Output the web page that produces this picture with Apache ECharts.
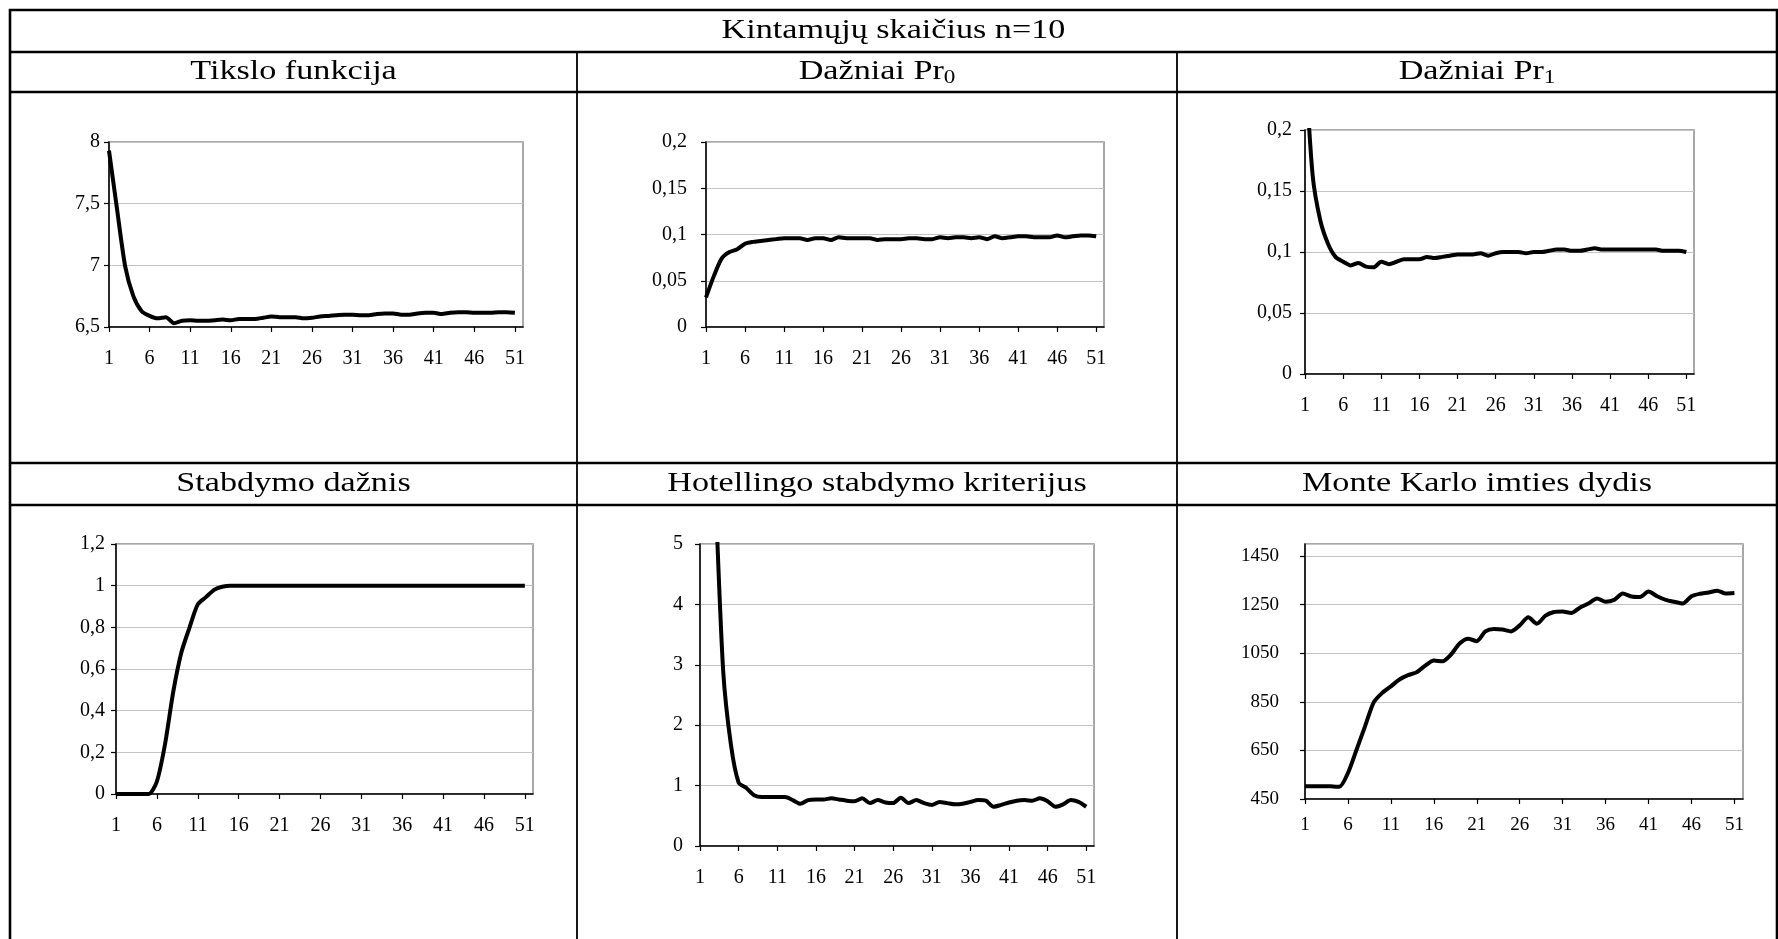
<!DOCTYPE html>
<html>
<head>
<meta charset="utf-8">
<script src="https://cdn.jsdelivr.net/npm/echarts@6/dist/echarts.min.js"></script>
<style>
html,body{margin:0;padding:0;background:#fff;}
#chart{width:1778px;height:939px;}
</style>
</head>
<body>
<div id="chart"></div>
<script>
// ---- Data ----
const categories = ['1','2','3','4','5','6','7','8','9','10','11','12','13','14','15','16','17','18','19','20',
  '21','22','23','24','25','26','27','28','29','30','31','32','33','34','35','36','37','38','39','40',
  '41','42','43','44','45','46','47','48','49','50','51','52'];

const mainTitle = 'Kintamųjų skaičius n=10';
const panelTitles = ['Tikslo funkcija', 'Dažniai Pr{sub|0}', 'Dažniai Pr{sub|1}',
  'Stabdymo dažnis', 'Hotellingo stabdymo kriterijus', 'Monte Karlo imties dydis'];

const tiksloFunkcija = [7.93,7.45,6.99,6.75,6.63,6.59,6.57,6.58,6.53,6.55,
  6.555,6.55,6.55,6.555,6.56,6.555,6.565,6.565,6.565,6.575,
  6.585,6.58,6.58,6.58,6.57,6.575,6.585,6.59,6.595,6.6,
  6.6,6.595,6.595,6.605,6.61,6.61,6.6,6.6,6.61,6.615,
  6.615,6.605,6.615,6.62,6.62,6.615,6.615,6.615,6.62,6.62,
  6.615];

const dazniaiPr0 = [0.032,0.055,0.074,0.081,0.084,0.09,0.092,0.093,0.094,0.095,
  0.096,0.096,0.096,0.094,0.096,0.096,0.094,0.097,0.096,0.096,
  0.096,0.096,0.094,0.095,0.095,0.095,0.096,0.096,0.095,0.095,
  0.097,0.096,0.097,0.097,0.096,0.097,0.095,0.098,0.096,0.097,
  0.098,0.098,0.097,0.097,0.097,0.099,0.097,0.098,0.099,0.099,
  0.098];

const dazniaiPr1 = [0.26,0.163,0.126,0.107,0.096,0.092,0.089,0.091,0.088,0.0875,
  0.092,0.090,0.092,0.094,0.094,0.094,0.096,0.095,0.096,0.097,
  0.098,0.098,0.098,0.099,0.097,0.099,0.1,0.1,0.1,0.099,
  0.1,0.1,0.101,0.102,0.102,0.101,0.101,0.102,0.103,0.102,
  0.102,0.102,0.102,0.102,0.102,0.102,0.102,0.101,0.101,0.101,
  0.1];

const stabdymoDaznis = [0,0,0,0,0,0.06,0.24,0.49,0.68,0.8,
  0.91,0.945,0.98,0.995,1,1,1,1,1,1,
  1,1,1,1,1,1,1,1,1,1,
  1,1,1,1,1,1,1,1,1,1,
  1,1,1,1,1,1,1,1,1,1,
  1];

const hotellingo = [14,8.5,5.8,2.9,1.68,1.05,0.96,0.84,0.81,0.81,
  0.81,0.81,0.76,0.70,0.76,0.77,0.77,0.79,0.77,0.75,
  0.74,0.79,0.71,0.76,0.72,0.71,0.80,0.71,0.76,0.71,
  0.68,0.73,0.71,0.69,0.70,0.73,0.76,0.75,0.65,0.68,
  0.72,0.75,0.76,0.75,0.79,0.74,0.65,0.69,0.76,0.73,
  0.65];

const monteKarlo = [502,502,502,502,500,557,653,750,848,887,
  914,942,960,972,999,1020,1017,1045,1090,1110,
  1100,1140,1150,1148,1140,1165,1198,1172,1205,1220,
  1222,1216,1238,1255,1276,1262,1270,1296,1284,1282,
  1304,1285,1270,1262,1255,1285,1295,1300,1308,1296,
  1298];

// axis ranges (tick labels)
const yRanges = [
  {min: 6.5, max: 8, interval: 0.5, hideMax: false},
  {min: 0, max: 0.2, interval: 0.05, hideMax: false},
  {min: 0, max: 0.2, interval: 0.05, hideMax: false},
  {min: 0, max: 1.2, interval: 0.2, hideMax: false},
  {min: 0, max: 5, interval: 1, hideMax: false},
  {min: 450, max: 1500, interval: 200, hideMax: true}
];
const seriesData = [tiksloFunkcija, dazniaiPr0, dazniaiPr1, stabdymoDaznis, hotellingo, monteKarlo];

// ---- Layout ----
const grids = [
  {left: 109, top: 142, width: 414, height: 185},
  {left: 706, top: 142, width: 398, height: 185},
  {left: 1305, top: 130, width: 389, height: 244},
  {left: 116, top: 544, width: 417, height: 250},
  {left: 700, top: 544, width: 394, height: 302},
  {left: 1305, top: 544, width: 438, height: 255}
];
const yLabelMargin = [9, 19, 13, 11, 17, 26];
const xLabelMargin = [22, 22, 22, 22, 22, 17];
const labelSize = [20, 20, 20, 20, 20, 19];

const FONT = 'Liberation Serif, Times New Roman, serif';

function fmt(v, hideMax, max) {
  if (hideMax && Math.abs(v - max) < 1e-9) return '';
  const r = Math.round(v * 10000) / 10000;
  return String(r).replace('.', ',');
}

const option = {
  animation: false,
  backgroundColor: '#ffffff',
  grid: grids.map(g => Object.assign({show: true, borderColor: '#8c8c8c', borderWidth: 1.5, backgroundColor: 'transparent', containLabel: false}, g)),
  xAxis: grids.map((g, i) => ({
    type: 'category',
    gridIndex: i,
    data: categories,
    boundaryGap: false,
    axisLine: {show: true, lineStyle: {color: '#000', width: 1.5}},
    axisTick: {show: true, interval: 4, length: 5, lineStyle: {color: '#000', width: 1.2}},
    axisLabel: {interval: 4, margin: xLabelMargin[i], fontSize: labelSize[i], color: '#000', fontFamily: FONT},
    splitLine: {show: false}
  })),
  yAxis: yRanges.map((r, i) => ({
    type: 'value',
    gridIndex: i,
    min: r.min, max: r.max, interval: r.interval,
    axisLine: {show: true, lineStyle: {color: '#000', width: 1.5}},
    axisTick: {show: true, length: 5, lineStyle: {color: '#000', width: 1.2}},
    axisLabel: {
      margin: yLabelMargin[i], fontSize: labelSize[i], color: '#000', fontFamily: FONT,
      showMaxLabel: !r.hideMax,
      formatter: v => fmt(v, r.hideMax, r.max)
    },
    splitLine: {show: true, lineStyle: {color: '#c4c4c4', width: 1.2}}
  })),
  series: seriesData.map((d, i) => ({
    type: 'line',
    xAxisIndex: i,
    yAxisIndex: i,
    data: d,
    showSymbol: false,
    smooth: 0.25,
    clip: true,
    lineStyle: {color: '#000', width: 4},
    z: 5
  })),
  graphic: []
};

// table lines
const H = 939;
const hLines = [10, 52, 92, 463, 505];
hLines.forEach(y => option.graphic.push({
  type: 'line', silent: true, z: 100,
  shape: {x1: 9, y1: y, x2: 1778, y2: y},
  style: {stroke: '#000', lineWidth: 2.6}
}));
[[10, 9, 2.6], [1777, 9, 2.6], [577, 52, 1.8], [1177, 52, 1.8]].forEach(([x, y0, w]) => option.graphic.push({
  type: 'line', silent: true, z: 100,
  shape: {x1: x, y1: y0, x2: x, y2: H},
  style: {stroke: '#000', lineWidth: w}
}));

const richStyles = {
  sub: {fontSize: 19, lineHeight: 12, verticalAlign: 'bottom', fontFamily: FONT, fill: '#000', color: '#000'}
};
function titleText(text, x, y) {
  return {
    type: 'text', silent: true, z: 100,
    x: x, y: y, scaleX: 1.22, scaleY: 1,
    style: {
      text: text, fill: '#000',
      font: '28px ' + FONT, fontSize: 28, fontFamily: FONT, lineHeight: 32,
      align: 'center', verticalAlign: 'middle', textAlign: 'center', textVerticalAlign: 'middle',
      rich: richStyles
    }
  };
}
option.graphic.push(titleText(mainTitle, 893.5, 31));
const colCenters = [293.5, 877, 1477];
panelTitles.forEach((t, i) => {
  option.graphic.push(titleText(t, colCenters[i % 3], i < 3 ? 72 : 484));
});

const chart = echarts.init(document.getElementById('chart'), null, {renderer: 'canvas'});
chart.setOption(option);
</script>
</body>
</html>
